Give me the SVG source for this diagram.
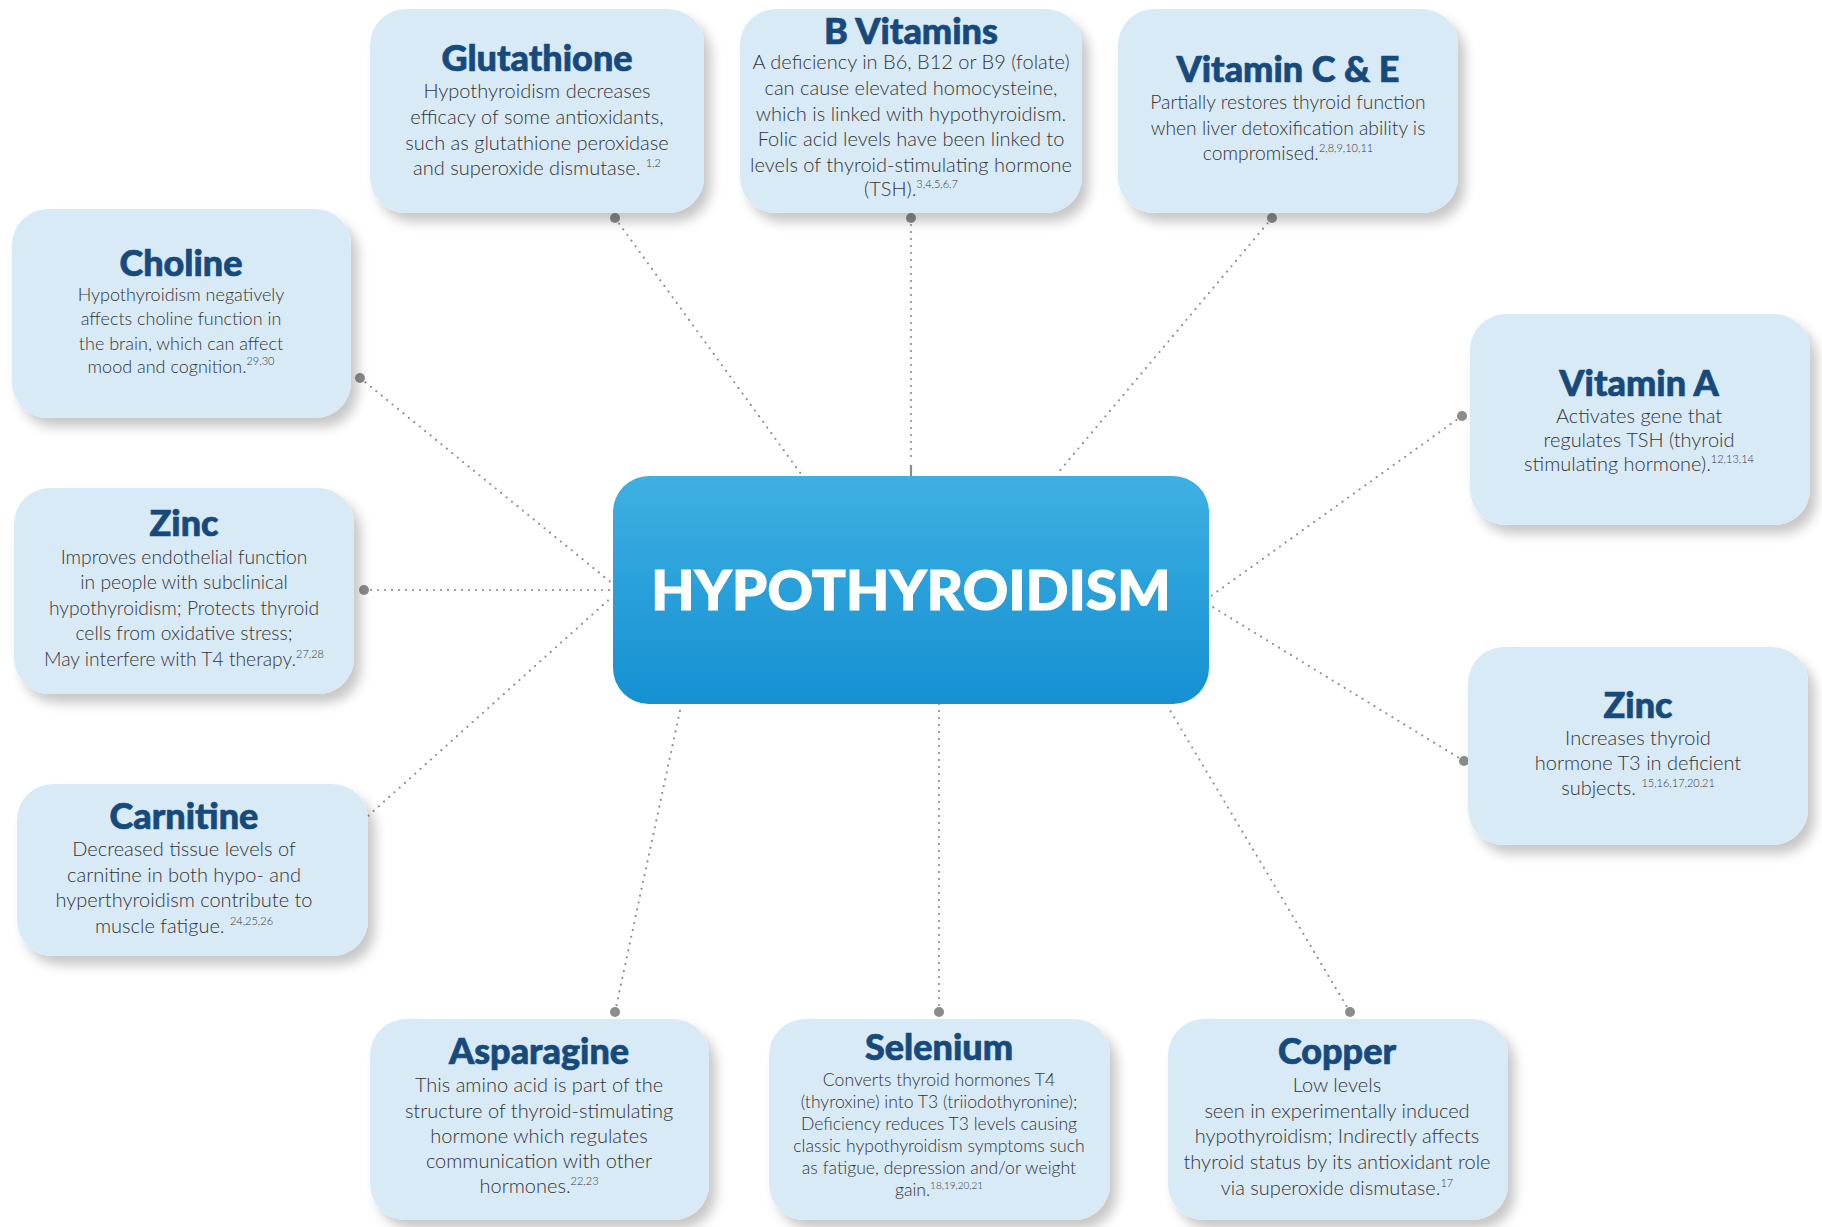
<svg xmlns="http://www.w3.org/2000/svg" width="1822" height="1227" viewBox="0 0 1822 1227">
<defs>
<filter id="sh" x="-10%" y="-10%" width="125%" height="130%">
<feDropShadow dx="7" dy="9" stdDeviation="6" flood-color="#000" flood-opacity="0.22"/>
</filter>
<linearGradient id="cg" x1="0" y1="0" x2="0" y2="1">
<stop offset="0" stop-color="#3eb0e3"/>
<stop offset="1" stop-color="#1590d1"/>
</linearGradient>
</defs>
<style>
.box{fill:#d9eaf7;filter:url(#sh)}
.t{font-family:Lato,"Liberation Sans",sans-serif;font-weight:900;font-size:36px;fill:#174a7c;stroke:#174a7c;stroke-width:0.7;text-anchor:middle}
.b{font-family:Lato,"Liberation Sans",sans-serif;font-weight:300;font-size:20px;fill:#333;text-anchor:middle}
.s{font-size:11px}
.c{stroke:#8c8c8c;stroke-width:2.2;stroke-linecap:round;stroke-dasharray:0 7;fill:none}
.d{fill:#8c8c8c}
</style>
<rect width="1822" height="1227" fill="#fff"/>
<g id="connectors">
<line class="c" x1="615" y1="218" x2="801" y2="474"/>
<line class="c" x1="911" y1="218" x2="911" y2="462"/>
<line x1="911" y1="465" x2="911" y2="477" stroke="#8c8c8c" stroke-width="2.2"/>
<line class="c" x1="1272" y1="218" x2="1057" y2="474"/>
<line class="c" x1="360" y1="378" x2="613" y2="584"/>
<line class="c" x1="364" y1="590" x2="613" y2="590"/>
<line class="c" x1="358" y1="825" x2="613" y2="596"/>
<line class="c" x1="1462" y1="416" x2="1211" y2="596"/>
<line class="c" x1="1464" y1="761" x2="1211" y2="606"/>
<line class="c" x1="615" y1="1012" x2="681" y2="706"/>
<line class="c" x1="939" y1="1012" x2="939" y2="703"/>
<line class="c" x1="1350" y1="1012" x2="1168" y2="707"/>
<circle class="d" cx="615" cy="218" r="5"/>
<circle class="d" cx="911" cy="218" r="5"/>
<circle class="d" cx="1272" cy="218" r="5"/>
<circle class="d" cx="360" cy="378" r="5"/>
<circle class="d" cx="364" cy="590" r="5"/>
<circle class="d" cx="358" cy="825" r="5"/>
<circle class="d" cx="1462" cy="416" r="5"/>
<circle class="d" cx="1464" cy="761" r="5"/>
<circle class="d" cx="615" cy="1012" r="5"/>
<circle class="d" cx="939" cy="1012" r="5"/>
<circle class="d" cx="1350" cy="1012" r="5"/>
</g>
<g id="center">
<rect x="613" y="476" width="596" height="228" rx="36" fill="url(#cg)"/>
<text x="911" y="610" font-family="Lato,'Liberation Sans',sans-serif" font-weight="900" font-size="56" fill="#fff" stroke="#fff" stroke-width="1.2" text-anchor="middle" letter-spacing="0.3">HYPOTHYROIDISM</text>
</g>
<g id="glutathione">
<rect class="box" x="370" y="9" width="334" height="204" rx="36"/>
<text class="t" x="537" y="71">Glutathione</text>
<text class="b" x="537" y="98">Hypothyroidism decreases</text>
<text class="b" x="537" y="124">efficacy of some antioxidants,</text>
<text class="b" x="537" y="150">such as glutathione peroxidase</text>
<text class="b" x="537" y="175">and superoxide dismutase. <tspan class="s" dy="-8">1,2</tspan></text>
</g>
<g id="bvitamins">
<rect class="box" x="740" y="9" width="342" height="204" rx="36"/>
<text class="t" x="911" y="44">B Vitamins</text>
<text class="b" x="911" y="69">A deficiency in B6, B12 or B9 (folate)</text>
<text class="b" x="911" y="95">can cause elevated homocysteine,</text>
<text class="b" x="911" y="121">which is linked with hypothyroidism.</text>
<text class="b" x="911" y="146">Folic acid levels have been linked to</text>
<text class="b" x="911" y="172">levels of thyroid-stimulating hormone</text>
<text class="b" x="911" y="196">(TSH).<tspan class="s" dy="-8">3,4,5,6,7</tspan></text>
</g>
<g id="vitaminCE">
<rect class="box" x="1118" y="9" width="340" height="204" rx="36"/>
<text class="t" x="1288" y="82">Vitamin C &amp; E</text>
<text class="b" x="1288" y="109" style="font-size:19.3px">Partially restores thyroid function</text>
<text class="b" x="1288" y="135" style="font-size:19.3px">when liver detoxification ability is</text>
<text class="b" x="1288" y="160" style="font-size:19.3px">compromised.<tspan class="s" dy="-8">2,8,9,10,11</tspan></text>
</g>
<g id="choline">
<rect class="box" x="12" y="209" width="339" height="209" rx="36"/>
<text class="t" x="181" y="276">Choline</text>
<text class="b" x="181" y="301" style="font-size:18px">Hypothyroidism negatively</text>
<text class="b" x="181" y="325" style="font-size:18px">affects choline function in</text>
<text class="b" x="181" y="350" style="font-size:18px">the brain, which can affect</text>
<text class="b" x="181" y="373" style="font-size:18px">mood and cognition.<tspan class="s" dy="-8">29,30</tspan></text>
</g>
<g id="zinc-left">
<rect class="box" x="14" y="488" width="340" height="206" rx="36"/>
<text class="t" x="184" y="536">Zinc</text>
<text class="b" x="184" y="564" style="font-size:19.3px">Improves endothelial function</text>
<text class="b" x="184" y="589" style="font-size:19.3px">in people with subclinical</text>
<text class="b" x="184" y="615" style="font-size:19.3px">hypothyroidism; Protects thyroid</text>
<text class="b" x="184" y="640" style="font-size:19.3px">cells from oxidative stress;</text>
<text class="b" x="184" y="666" style="font-size:19.3px">May interfere with T4 therapy.<tspan class="s" dy="-8">27,28</tspan></text>
</g>
<g id="carnitine">
<rect class="box" x="17" y="784" width="351" height="172" rx="36"/>
<text class="t" x="184" y="829">Carnitine</text>
<text class="b" x="184" y="856">Decreased tissue levels of</text>
<text class="b" x="184" y="882">carnitine in both hypo- and</text>
<text class="b" x="184" y="907">hyperthyroidism contribute to</text>
<text class="b" x="184" y="933">muscle fatigue. <tspan class="s" dy="-8">24,25,26</tspan></text>
</g>
<g id="vitaminA">
<rect class="box" x="1470" y="314" width="340" height="211" rx="36"/>
<text class="t" x="1639" y="396">Vitamin A</text>
<text class="b" x="1639" y="423">Activates gene that</text>
<text class="b" x="1639" y="447">regulates TSH (thyroid</text>
<text class="b" x="1639" y="471">stimulating hormone).<tspan class="s" dy="-8">12,13,14</tspan></text>
</g>
<g id="zinc-right">
<rect class="box" x="1468" y="647" width="340" height="198" rx="36"/>
<text class="t" x="1638" y="718">Zinc</text>
<text class="b" x="1638" y="745">Increases thyroid</text>
<text class="b" x="1638" y="770">hormone T3 in deficient</text>
<text class="b" x="1638" y="795">subjects. <tspan class="s" dy="-8">15,16,17,20,21</tspan></text>
</g>
<g id="asparagine">
<rect class="box" x="370" y="1019" width="339" height="201" rx="36"/>
<text class="t" x="539" y="1064">Asparagine</text>
<text class="b" x="539" y="1092">This amino acid is part of the</text>
<text class="b" x="539" y="1118">structure of thyroid-stimulating</text>
<text class="b" x="539" y="1143">hormone which regulates</text>
<text class="b" x="539" y="1168">communication with other</text>
<text class="b" x="539" y="1193">hormones.<tspan class="s" dy="-8">22,23</tspan></text>
</g>
<g id="selenium">
<rect class="box" x="769" y="1019" width="341" height="201" rx="36"/>
<text class="t" x="939" y="1060">Selenium</text>
<text class="b" x="939" y="1086" style="font-size:17.6px">Converts thyroid hormones T4</text>
<text class="b" x="939" y="1108" style="font-size:17.6px">(thyroxine) into T3 (triiodothyronine);</text>
<text class="b" x="939" y="1130" style="font-size:17.6px">Deficiency reduces T3 levels causing</text>
<text class="b" x="939" y="1152" style="font-size:17.6px">classic hypothyroidism symptoms such</text>
<text class="b" x="939" y="1174" style="font-size:17.6px">as fatigue, depression and/or weight</text>
<text class="b" x="939" y="1196" style="font-size:17.6px">gain.<tspan class="s" dy="-7" style="font-size:10px">18,19,20,21</tspan></text>
</g>
<g id="copper">
<rect class="box" x="1168" y="1019" width="340" height="201" rx="36"/>
<text class="t" x="1337" y="1064">Copper</text>
<text class="b" x="1337" y="1092">Low levels</text>
<text class="b" x="1337" y="1118">seen in experimentally induced</text>
<text class="b" x="1337" y="1143">hypothyroidism; Indirectly affects</text>
<text class="b" x="1337" y="1169">thyroid status by its antioxidant role</text>
<text class="b" x="1337" y="1195">via superoxide dismutase.<tspan class="s" dy="-8">17</tspan></text>
</g>
</svg>
